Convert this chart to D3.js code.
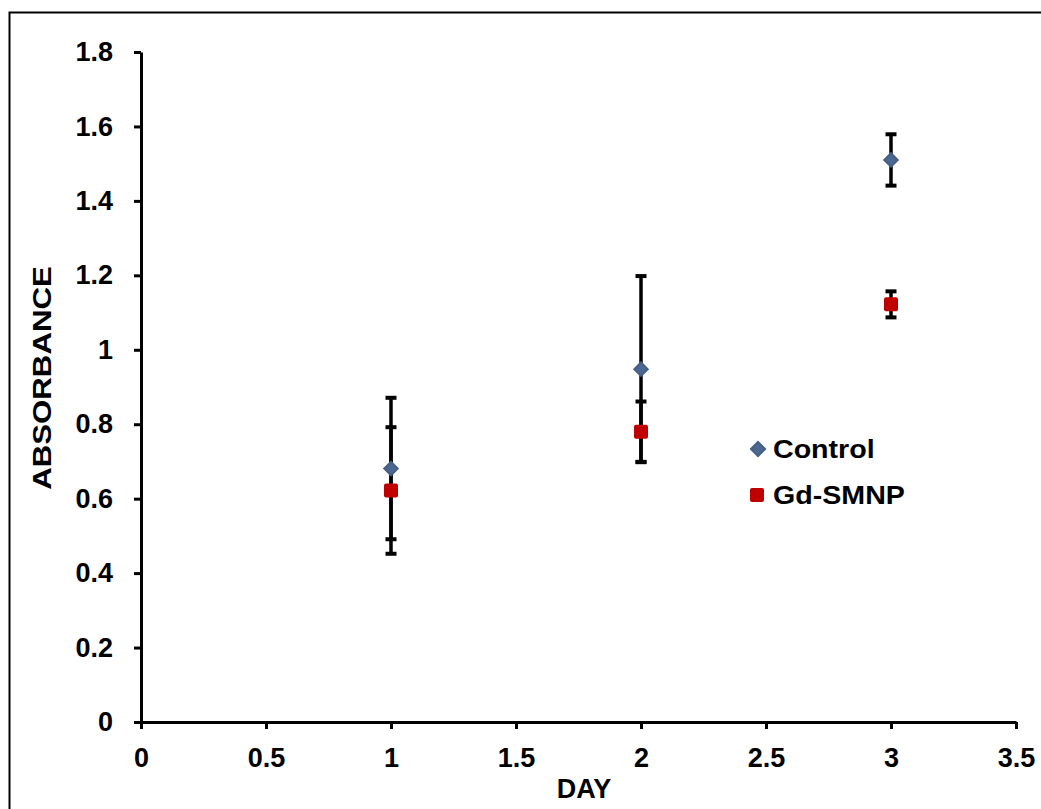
<!DOCTYPE html>
<html>
<head>
<meta charset="utf-8">
<script src="https://cdn.jsdelivr.net/npm/d3@7"></script>
<style>
  body { margin: 0; background: #fff; }
  text { font-family: "Liberation Sans", Arial, sans-serif; font-weight: bold; }
</style>
</head>
<body>
<div id="chart"></div>
<script>
// Data
const days = [1, 2, 3];
const control = [0.681, 0.948, 1.51];
const controlErr = [0.19, 0.25, 0.069];
const gdSmnp = [0.622, 0.78, 1.122];
const gdSmnpErr = [0.17, 0.081, 0.035];
const xTicks = [0, 0.5, 1, 1.5, 2, 2.5, 3, 3.5];
const yTicks = [0, 0.2, 0.4, 0.6, 0.8, 1, 1.2, 1.4, 1.6, 1.8];
const seriesNames = ["Control", "Gd-SMNP"];

const width = 1041;
const height = 809;

const svg = d3.select("#chart").append("svg")
  .attr("width", width)
  .attr("height", height);

// outer frame (runs off the right and bottom edges)
svg.append("rect")
  .attr("x", 9.5).attr("y", 12.5)
  .attr("width", 1100).attr("height", 900)
  .attr("fill", "none").attr("stroke", "#000").attr("stroke-width", 2);

const x = d3.scaleLinear().domain([0, 3.5]).range([141, 1016]);
const y = d3.scaleLinear().domain([0, 1.8]).range([722, 52]);

const xAxis = svg.append("g")
  .attr("transform", `translate(0,${y(0)})`)
  .call(d3.axisBottom(x).tickValues(xTicks).tickFormat(d => d).tickSize(7).tickPadding(19).tickSizeOuter(0));

const yAxis = svg.append("g")
  .attr("transform", `translate(${x(0)},0)`)
  .call(d3.axisLeft(y).tickValues(yTicks).tickFormat(d => d).tickSize(7).tickPadding(21).tickSizeOuter(0));

[xAxis, yAxis].forEach(g => {
  g.select(".domain").attr("stroke", "#000").attr("stroke-width", 3);
  g.selectAll(".tick line").attr("stroke", "#000").attr("stroke-width", 3);
  g.selectAll(".tick text")
    .attr("fill", "#000")
    .style("font-size", "27px")
    .style("font-family", "'Liberation Sans', Arial, sans-serif")
    .style("font-weight", "bold");
});

// axis titles
svg.append("text")
  .attr("x", 584).attr("y", 798)
  .attr("text-anchor", "middle")
  .style("font-size", "27px")
  .text("DAY");

svg.append("text")
  .attr("transform", "translate(51,378) rotate(-90) scale(1.2,1)")
  .attr("text-anchor", "middle")
  .style("font-size", "26px")
  .text("ABSORBANCE");

// error bars
const series = [
  { name: seriesNames[0], values: control, err: controlErr },
  { name: seriesNames[1], values: gdSmnp, err: gdSmnpErr }
];

const bars = svg.append("g").attr("class", "errors");
series.forEach(s => {
  const pts = days.map((d, i) => ({ d, v: s.values[i], e: s.err[i] }));
  const g = bars.append("g");
  g.selectAll(".stem").data(pts).join("line")
    .attr("x1", p => x(p.d)).attr("x2", p => x(p.d))
    .attr("y1", p => y(p.v + p.e)).attr("y2", p => y(p.v - p.e))
    .attr("stroke", "#000").attr("stroke-width", 3.5);
  ["top", "bot"].forEach(side => {
    g.selectAll(".cap-" + side).data(pts).join("line")
      .attr("x1", p => x(p.d) - 5.5).attr("x2", p => x(p.d) + 5.5)
      .attr("y1", p => y(side === "top" ? p.v + p.e : p.v - p.e))
      .attr("y2", p => y(side === "top" ? p.v + p.e : p.v - p.e))
      .attr("stroke", "#000").attr("stroke-width", 4);
  });
});

// markers
function diamond(sel, size) {
  sel.attr("width", size).attr("height", size)
    .attr("x", -size / 2).attr("y", -size / 2)
    .attr("fill", "#4b6893")
    .attr("stroke", "#475f84")
    .attr("stroke-width", 2);
}
function square(sel, size) {
  sel.attr("width", size).attr("height", size)
    .attr("x", -size / 2).attr("y", -size / 2)
    .attr("rx", 2)
    .attr("fill", "#c00000");
}

svg.append("g").selectAll("rect").data(days.map((d, i) => [d, control[i]])).join("rect")
  .attr("transform", p => `translate(${x(p[0])},${y(p[1])}) rotate(45)`)
  .call(diamond, 9.5);

svg.append("g").selectAll("rect").data(days.map((d, i) => [d, gdSmnp[i]])).join("rect")
  .attr("transform", p => `translate(${x(p[0])},${y(p[1])})`)
  .call(square, 14);

// legend
const legend = svg.append("g");
legend.append("rect")
  .attr("transform", "translate(758,449) rotate(45)")
  .call(diamond, 10);
legend.append("rect")
  .attr("transform", "translate(757,495)")
  .call(square, 14);
legend.selectAll(".lbl").data(seriesNames).join("text")
  .attr("transform", (d, i) => `translate(773,${458 + i * 46}) scale(1.1,1)`)
  .style("font-size", "26px")
  .text(d => d);
</script>
</body>
</html>
